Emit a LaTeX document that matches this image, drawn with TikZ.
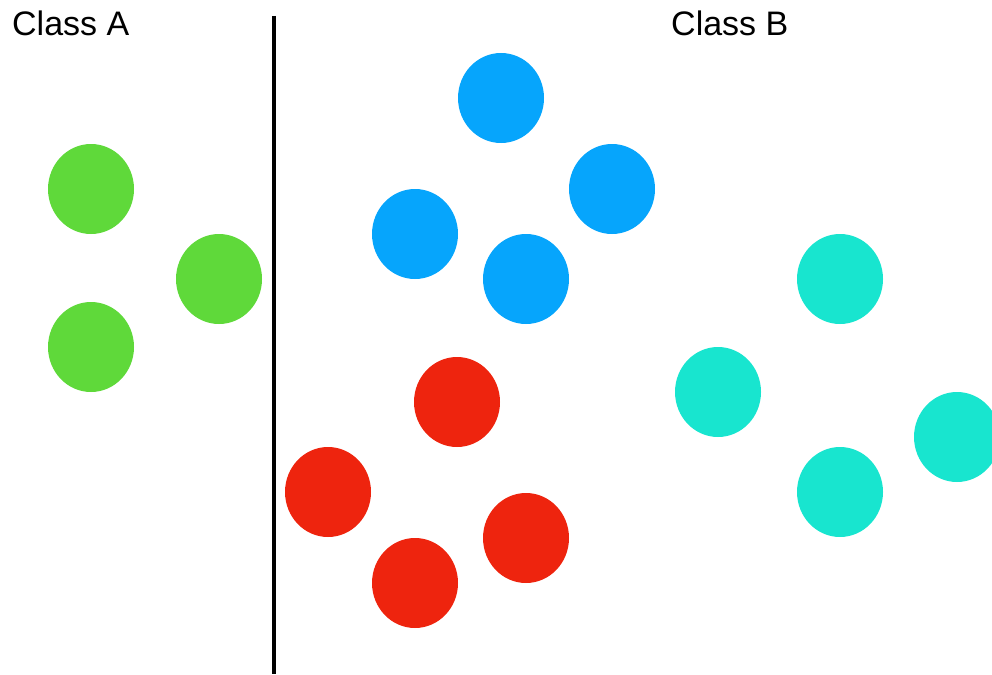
\documentclass[tikz,border=0pt]{standalone}
\usepackage{fontspec}
\setmainfont{Liberation Sans}
\usetikzlibrary{shapes.geometric}
\definecolor{cgreen}{HTML}{5FD93A}
\definecolor{cblue}{HTML}{06A5FC}
\definecolor{cred}{HTML}{EE240E}
\definecolor{ccyan}{HTML}{18E5CF}
\begin{document}
\begin{tikzpicture}[x=1pt,y=-1pt,
  dot/.style={ellipse,inner sep=0pt,minimum width=86pt,minimum height=90pt},
  lbl/.style={font=\fontsize{34}{40}\selectfont,inner sep=0pt,anchor=base west}]
\useasboundingbox (0,0) rectangle (992,674);
\node[lbl] (ta) at (12,36) {Class A};
\node[lbl] (tb) at (671,36) {Class B};
\coordinate (lt) at (274,16);
\coordinate (lb) at (274,674);
\draw[line width=4.5pt] (lt) -- (lb);
\node[dot,fill=cgreen] (g1) at (91,189) {};
\node[dot,fill=cgreen] (g2) at (219,279) {};
\node[dot,fill=cgreen] (g3) at (91,347) {};
\node[dot,fill=cblue] (b1) at (501,98) {};
\node[dot,fill=cblue] (b2) at (612,189) {};
\node[dot,fill=cblue] (b3) at (415,234) {};
\node[dot,fill=cblue] (b4) at (526,279) {};
\node[dot,fill=cred] (r1) at (457,402) {};
\node[dot,fill=cred] (r2) at (328,492) {};
\node[dot,fill=cred] (r3) at (526,538) {};
\node[dot,fill=cred] (r4) at (415,583) {};
\node[dot,fill=ccyan] (c1) at (840,279) {};
\node[dot,fill=ccyan] (c2) at (718,392) {};
\node[dot,fill=ccyan] (c3) at (957,437) {};
\node[dot,fill=ccyan] (c4) at (840,492) {};
\end{tikzpicture}
\end{document}
